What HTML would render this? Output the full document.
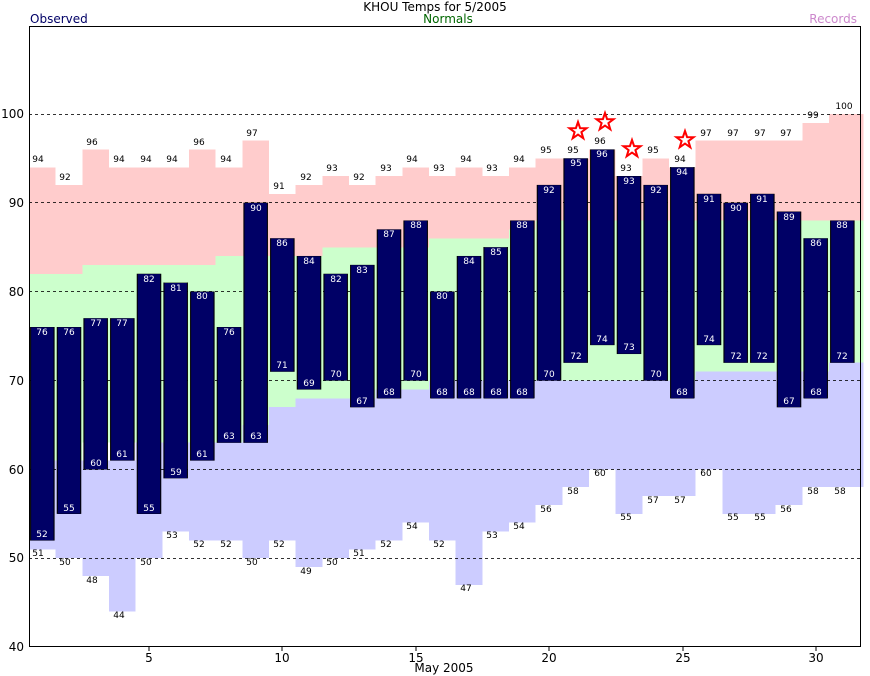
<!DOCTYPE html>
<html><head><meta charset="utf-8"><style>
html,body{margin:0;padding:0;background:#fff;}
svg{display:block;font-family:"DejaVu Sans","Liberation Sans",sans-serif;}
.s{font-size:9px;text-anchor:middle;}
.w{fill:#fff;}
.a{font-size:12px;}
</style></head><body>
<svg width="870" height="676" viewBox="0 0 870 676" xmlns="http://www.w3.org/2000/svg">
<rect width="870" height="676" fill="#fff"/>
<g transform="translate(29,647) scale(26.667,-8.883)" shape-rendering="crispEdges">
<!-- record lows to normal lows (lavender) -->
<rect x="0" y="11" width="1" height="10" fill="#ccccff"/>
<rect x="1" y="10" width="1" height="11" fill="#ccccff"/>
<rect x="2" y="8" width="1" height="13" fill="#ccccff"/>
<rect x="3" y="4" width="1" height="17" fill="#ccccff"/>
<rect x="4" y="10" width="1" height="13" fill="#ccccff"/>
<rect x="5" y="13" width="1" height="10" fill="#ccccff"/>
<rect x="6" y="12" width="1" height="11" fill="#ccccff"/>
<rect x="7" y="12" width="1" height="11" fill="#ccccff"/>
<rect x="8" y="10" width="1" height="15" fill="#ccccff"/>
<rect x="9" y="12" width="1" height="15" fill="#ccccff"/>
<rect x="10" y="9" width="1" height="19" fill="#ccccff"/>
<rect x="11" y="10" width="1" height="18" fill="#ccccff"/>
<rect x="12" y="11" width="1" height="17" fill="#ccccff"/>
<rect x="13" y="12" width="1" height="17" fill="#ccccff"/>
<rect x="14" y="14" width="1" height="15" fill="#ccccff"/>
<rect x="15" y="12" width="1" height="18" fill="#ccccff"/>
<rect x="16" y="7" width="1" height="23" fill="#ccccff"/>
<rect x="17" y="13" width="1" height="17" fill="#ccccff"/>
<rect x="18" y="14" width="1" height="16" fill="#ccccff"/>
<rect x="19" y="16" width="1" height="14" fill="#ccccff"/>
<rect x="20" y="18" width="1" height="12" fill="#ccccff"/>
<rect x="21" y="20" width="1" height="10" fill="#ccccff"/>
<rect x="22" y="15" width="1" height="15" fill="#ccccff"/>
<rect x="23" y="17" width="1" height="13" fill="#ccccff"/>
<rect x="24" y="17" width="1" height="13" fill="#ccccff"/>
<rect x="25" y="20" width="1" height="11" fill="#ccccff"/>
<rect x="26" y="15" width="1" height="16" fill="#ccccff"/>
<rect x="27" y="15" width="1" height="16" fill="#ccccff"/>
<rect x="28" y="16" width="1" height="15" fill="#ccccff"/>
<rect x="29" y="18" width="1" height="13" fill="#ccccff"/>
<rect x="30" y="18" width="1.3" height="14" fill="#ccccff"/>
<!-- normals (green) -->
<path fill="#ccffcc" d="M0 21H2V23H5V23H8V25H9V27H10V28H13V29H15V30H25V31H30V32H31.3V48H25V48H19V47H18V46H15V45H13V45H11V44H7V43H2V42H0Z"/>
<!-- records high (pink) -->
<rect x="0" y="42" width="1" height="12" fill="#ffcccc"/>
<rect x="1" y="42" width="1" height="10" fill="#ffcccc"/>
<rect x="2" y="43" width="1" height="13" fill="#ffcccc"/>
<rect x="3" y="43" width="1" height="11" fill="#ffcccc"/>
<rect x="4" y="43" width="1" height="11" fill="#ffcccc"/>
<rect x="5" y="43" width="1" height="11" fill="#ffcccc"/>
<rect x="6" y="43" width="1" height="13" fill="#ffcccc"/>
<rect x="7" y="44" width="1" height="10" fill="#ffcccc"/>
<rect x="8" y="44" width="1" height="13" fill="#ffcccc"/>
<rect x="9" y="44" width="1" height="7" fill="#ffcccc"/>
<rect x="10" y="44" width="1" height="8" fill="#ffcccc"/>
<rect x="11" y="45" width="1" height="8" fill="#ffcccc"/>
<rect x="12" y="45" width="1" height="7" fill="#ffcccc"/>
<rect x="13" y="45" width="1" height="8" fill="#ffcccc"/>
<rect x="14" y="45" width="1" height="9" fill="#ffcccc"/>
<rect x="15" y="46" width="1" height="7" fill="#ffcccc"/>
<rect x="16" y="46" width="1" height="8" fill="#ffcccc"/>
<rect x="17" y="46" width="1" height="7" fill="#ffcccc"/>
<rect x="18" y="47" width="1" height="7" fill="#ffcccc"/>
<rect x="19" y="48" width="1" height="7" fill="#ffcccc"/>
<rect x="20" y="48" width="1" height="7" fill="#ffcccc"/>
<rect x="21" y="48" width="1" height="8" fill="#ffcccc"/>
<rect x="22" y="48" width="1" height="5" fill="#ffcccc"/>
<rect x="23" y="48" width="1" height="7" fill="#ffcccc"/>
<rect x="24" y="48" width="1" height="6" fill="#ffcccc"/>
<rect x="25" y="48" width="1" height="9" fill="#ffcccc"/>
<rect x="26" y="48" width="1" height="9" fill="#ffcccc"/>
<rect x="27" y="48" width="1" height="9" fill="#ffcccc"/>
<rect x="28" y="48" width="1" height="9" fill="#ffcccc"/>
<rect x="29" y="48" width="1" height="11" fill="#ffcccc"/>
<rect x="30" y="48" width="1.3" height="12" fill="#ffcccc"/>
</g>
<!-- grid -->
<g stroke="#000" stroke-width="1" stroke-dasharray="3,3" opacity="0.8">
<line x1="29" x2="861" y1="558.5" y2="558.5"/>
<line x1="29" x2="861" y1="469.5" y2="469.5"/>
<line x1="29" x2="861" y1="380.5" y2="380.5"/>
<line x1="29" x2="861" y1="291.5" y2="291.5"/>
<line x1="29" x2="861" y1="202.5" y2="202.5"/>
<line x1="29" x2="861" y1="114.5" y2="114.5"/>
</g>
<!-- observed bars -->
<g transform="translate(29,647) scale(26.667,-8.883)" fill="#000066" stroke="#000" stroke-width="0.04" shape-rendering="crispEdges">
<rect x="0.06" y="12" width="0.88" height="24"/>
<rect x="1.06" y="15" width="0.88" height="21"/>
<rect x="2.06" y="20" width="0.88" height="17"/>
<rect x="3.06" y="21" width="0.88" height="16"/>
<rect x="4.06" y="15" width="0.88" height="27"/>
<rect x="5.06" y="19" width="0.88" height="22"/>
<rect x="6.06" y="21" width="0.88" height="19"/>
<rect x="7.06" y="23" width="0.88" height="13"/>
<rect x="8.06" y="23" width="0.88" height="27"/>
<rect x="9.06" y="31" width="0.88" height="15"/>
<rect x="10.06" y="29" width="0.88" height="15"/>
<rect x="11.06" y="30" width="0.88" height="12"/>
<rect x="12.06" y="27" width="0.88" height="16"/>
<rect x="13.06" y="28" width="0.88" height="19"/>
<rect x="14.06" y="30" width="0.88" height="18"/>
<rect x="15.06" y="28" width="0.88" height="12"/>
<rect x="16.06" y="28" width="0.88" height="16"/>
<rect x="17.06" y="28" width="0.88" height="17"/>
<rect x="18.06" y="28" width="0.88" height="20"/>
<rect x="19.06" y="30" width="0.88" height="22"/>
<rect x="20.06" y="32" width="0.88" height="23"/>
<rect x="21.06" y="34" width="0.88" height="22"/>
<rect x="22.06" y="33" width="0.88" height="20"/>
<rect x="23.06" y="30" width="0.88" height="22"/>
<rect x="24.06" y="28" width="0.88" height="26"/>
<rect x="25.06" y="34" width="0.88" height="17"/>
<rect x="26.06" y="32" width="0.88" height="18"/>
<rect x="27.06" y="32" width="0.88" height="19"/>
<rect x="28.06" y="27" width="0.88" height="22"/>
<rect x="29.06" y="28" width="0.88" height="18"/>
<rect x="30.06" y="32" width="0.88" height="16"/>
</g>
<!-- frame -->
<rect x="29.5" y="26.5" width="831" height="620" fill="none" stroke="#000"/>
<!-- record high labels -->
<g class="s">
<text x="38" y="162">94</text><text x="65" y="180">92</text><text x="92" y="145">96</text><text x="119" y="162">94</text>
<text x="146" y="162">94</text><text x="172" y="162">94</text><text x="199" y="145">96</text><text x="226" y="162">94</text>
<text x="252" y="136">97</text><text x="279" y="189">91</text><text x="306" y="180">92</text><text x="332" y="171">93</text>
<text x="359" y="180">92</text><text x="386" y="171">93</text><text x="412" y="162">94</text><text x="439" y="171">93</text>
<text x="466" y="162">94</text><text x="492" y="171">93</text><text x="519" y="162">94</text><text x="546" y="153">95</text>
<text x="573" y="153">95</text><text x="600" y="144">96</text><text x="626" y="171">93</text><text x="653" y="153">95</text>
<text x="680" y="162">94</text><text x="706" y="136">97</text><text x="733" y="136">97</text><text x="760" y="136">97</text>
<text x="786" y="136">97</text><text x="813" y="118">99</text><text x="844" y="109">100</text>
</g>
<!-- record low labels -->
<g class="s">
<text x="38" y="556">51</text><text x="65" y="565">50</text><text x="92" y="583">48</text><text x="119" y="618">44</text>
<text x="146" y="565">50</text><text x="172" y="538">53</text><text x="199" y="547">52</text><text x="226" y="547">52</text>
<text x="252" y="565">50</text><text x="279" y="547">52</text><text x="306" y="574">49</text><text x="332" y="565">50</text>
<text x="359" y="556">51</text><text x="386" y="547">52</text><text x="412" y="529">54</text><text x="439" y="547">52</text>
<text x="466" y="591">47</text><text x="492" y="538">53</text><text x="519" y="529">54</text><text x="546" y="512">56</text>
<text x="573" y="494">58</text><text x="600" y="476">60</text><text x="626" y="520">55</text><text x="653" y="503">57</text>
<text x="680" y="503">57</text><text x="706" y="476">60</text><text x="733" y="520">55</text><text x="760" y="520">55</text>
<text x="786" y="512">56</text><text x="813" y="494">58</text><text x="840" y="494">58</text>
</g>
<!-- observed high labels -->
<g class="s w">
<text x="42" y="335">76</text><text x="69" y="335">76</text><text x="96" y="326">77</text><text x="122" y="326">77</text>
<text x="149" y="282">82</text><text x="176" y="291">81</text><text x="202" y="299">80</text><text x="229" y="335">76</text>
<text x="256" y="211">90</text><text x="282" y="246">86</text><text x="309" y="264">84</text><text x="336" y="282">82</text>
<text x="362" y="273">83</text><text x="389" y="237">87</text><text x="416" y="228">88</text><text x="442" y="299">80</text>
<text x="469" y="264">84</text><text x="496" y="255">85</text><text x="522" y="228">88</text><text x="549" y="193">92</text>
<text x="576" y="166">95</text><text x="602" y="157">96</text><text x="629" y="184">93</text><text x="656" y="193">92</text>
<text x="682" y="175">94</text><text x="709" y="202">91</text><text x="736" y="211">90</text><text x="762" y="202">91</text>
<text x="789" y="220">89</text><text x="816" y="246">86</text><text x="842" y="228">88</text>
</g>
<!-- observed low labels -->
<g class="s w">
<text x="42" y="537">52</text><text x="69" y="511">55</text><text x="96" y="466">60</text><text x="122" y="457">61</text>
<text x="149" y="511">55</text><text x="176" y="475">59</text><text x="202" y="457">61</text><text x="229" y="439">63</text>
<text x="256" y="439">63</text><text x="282" y="368">71</text><text x="309" y="386">69</text><text x="336" y="377">70</text>
<text x="362" y="404">67</text><text x="389" y="395">68</text><text x="416" y="377">70</text><text x="442" y="395">68</text>
<text x="469" y="395">68</text><text x="496" y="395">68</text><text x="522" y="395">68</text><text x="549" y="377">70</text>
<text x="576" y="359">72</text><text x="602" y="342">74</text><text x="629" y="350">73</text><text x="656" y="377">70</text>
<text x="682" y="395">68</text><text x="709" y="342">74</text><text x="736" y="359">72</text><text x="762" y="359">72</text>
<text x="789" y="404">67</text><text x="816" y="395">68</text><text x="842" y="359">72</text>
</g>
<!-- stars -->
<g fill="none" stroke="#ff0000" stroke-width="2">
<polygon transform="translate(578,131)" points="0,-9 2.1,-2.9 8.6,-2.8 3.4,1.1 5.3,7.3 0,3.6 -5.3,7.3 -3.4,1.1 -8.6,-2.8 -2.1,-2.9"/>
<polygon transform="translate(605,122)" points="0,-9 2.1,-2.9 8.6,-2.8 3.4,1.1 5.3,7.3 0,3.6 -5.3,7.3 -3.4,1.1 -8.6,-2.8 -2.1,-2.9"/>
<polygon transform="translate(632,149)" points="0,-9 2.1,-2.9 8.6,-2.8 3.4,1.1 5.3,7.3 0,3.6 -5.3,7.3 -3.4,1.1 -8.6,-2.8 -2.1,-2.9"/>
<polygon transform="translate(685,140)" points="0,-9 2.1,-2.9 8.6,-2.8 3.4,1.1 5.3,7.3 0,3.6 -5.3,7.3 -3.4,1.1 -8.6,-2.8 -2.1,-2.9"/>
</g>
<!-- axes labels -->
<g class="a" text-anchor="end">
<text x="24" y="651">40</text><text x="24" y="562">50</text><text x="24" y="474">60</text>
<text x="24" y="385">70</text><text x="24" y="296">80</text><text x="24" y="207">90</text><text x="24" y="118">100</text>
</g>
<g stroke="#000"><line x1="149" x2="149" y1="647" y2="651"/><line x1="282" x2="282" y1="647" y2="651"/><line x1="416" x2="416" y1="647" y2="651"/><line x1="549" x2="549" y1="647" y2="651"/><line x1="683" x2="683" y1="647" y2="651"/><line x1="816" x2="816" y1="647" y2="651"/></g>
<g class="a" text-anchor="middle">
<text x="149" y="662">5</text><text x="282" y="662">10</text><text x="416" y="662">15</text>
<text x="549" y="662">20</text><text x="683" y="662">25</text><text x="816" y="662">30</text>
<text x="444" y="672">May 2005</text>
<text x="435" y="11">KHOU Temps for 5/2005</text>
<text x="448" y="23" fill="#006600">Normals</text>
</g>
<text class="a" x="30" y="23" fill="#000066">Observed</text>
<text class="a" x="857" y="23" fill="#cc88cc" text-anchor="end">Records</text>
</svg>
</body></html>
